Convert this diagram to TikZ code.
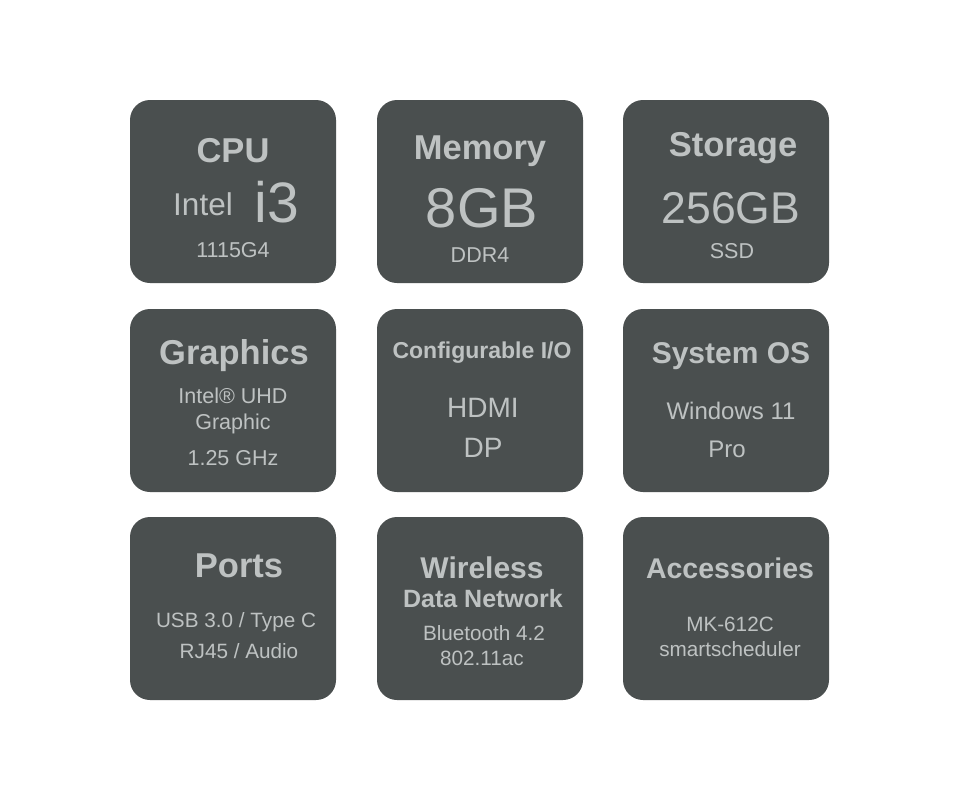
\documentclass[tikz,border=0pt]{standalone}
\usepackage{fontspec}
\setmainfont{Liberation Sans}
\definecolor{boxc}{HTML}{4A4F4F}
\definecolor{txtc}{HTML}{BEC2C2}
\begin{document}
\begin{tikzpicture}[x=1pt,y=-1pt,
  tile/.style={fill=boxc,draw=none,rounded corners=20pt},
  t/.style={text=txtc,inner sep=0pt,anchor=center}]
\useasboundingbox (0,0) rectangle (960,800);
\fill[white] (0,0) rectangle (960,800);
\foreach \x in {130,377,623}{
  \foreach \y in {100,309,517}{
    \path[tile] (\x,\y) rectangle ++(206,183);
  }
}
% row 1
\node[t,font=\bfseries\fontsize{34.5}{34.5}\selectfont] (cpu) at (233,151) {CPU};
\node[t,font=\fontsize{31.5}{31.5}\selectfont] (intel) at (203,204) {Intel};
\node[t,font=\fontsize{57}{57}\selectfont] (i3) at (277,202) {i3};
\node[t,font=\fontsize{21.5}{21.5}\selectfont] (g4) at (233,250) {1115G4};
\node[t,font=\bfseries\fontsize{34.5}{34.5}\selectfont] (mem) at (480,151) {Memory};
\node[t,font=\fontsize{56}{56}\selectfont] (gb8) at (482,208) {8GB};
\node[t,font=\fontsize{21.5}{21.5}\selectfont] (ddr) at (480,255) {DDR4};
\node[t,font=\bfseries\fontsize{34.5}{34.5}\selectfont] (sto) at (733,148) {Storage};
\node[t,font=\fontsize{44.5}{44.5}\selectfont] (gb256) at (731,208) {256GB};
\node[t,font=\fontsize{21.5}{21.5}\selectfont] (ssd) at (732,251) {SSD};
% row 2
\node[t,font=\bfseries\fontsize{34.5}{34.5}\selectfont] (gr) at (234,356) {Graphics};
\node[t,font=\fontsize{21.5}{21.5}\selectfont] (uhd) at (233,396) {Intel® UHD};
\node[t,font=\fontsize{21.5}{21.5}\selectfont] (grc) at (233,424) {Graphic};
\node[t,font=\fontsize{21.5}{21.5}\selectfont] (ghz) at (233,458) {1.25 GHz};
\node[t,font=\bfseries\fontsize{23}{23}\selectfont] (cio) at (482,353) {Configurable I/O};
\node[t,font=\fontsize{28}{28}\selectfont] (hdmi) at (483,408) {HDMI};
\node[t,font=\fontsize{28}{28}\selectfont] (dp) at (483,448) {DP};
\node[t,font=\bfseries\fontsize{30}{30}\selectfont] (sos) at (731,356) {System OS};
\node[t,font=\fontsize{24}{24}\selectfont] (win) at (731,411) {Windows 11};
\node[t,font=\fontsize{24}{24}\selectfont] (pro) at (727,449) {Pro};
% row 3
\node[t,font=\bfseries\fontsize{34.5}{34.5}\selectfont] (ports) at (239,566) {Ports};
\node[t,font=\fontsize{20.7}{20.7}\selectfont] (usb) at (236,622) {USB 3.0 / Type C};
\node[t,font=\fontsize{20.7}{20.7}\selectfont] (rj) at (239,651) {RJ45 / Audio};
\node[t,font=\bfseries\fontsize{30}{30}\selectfont] (wl) at (482,568) {Wireless};
\node[t,font=\bfseries\fontsize{25}{25}\selectfont] (dn) at (483,599) {Data Network};
\node[t,font=\fontsize{20.7}{20.7}\selectfont] (bt) at (484,633) {Bluetooth 4.2};
\node[t,font=\fontsize{20.7}{20.7}\selectfont] (wifi) at (482,658) {802.11ac};
\node[t,font=\bfseries\fontsize{28.5}{28.5}\selectfont] (acc) at (730,568) {Accessories};
\node[t,font=\fontsize{20.7}{20.7}\selectfont] (mk) at (730,624) {MK-612C};
\node[t,font=\fontsize{20.7}{20.7}\selectfont] (ss) at (730,649) {smartscheduler};
\end{tikzpicture}
\end{document}
